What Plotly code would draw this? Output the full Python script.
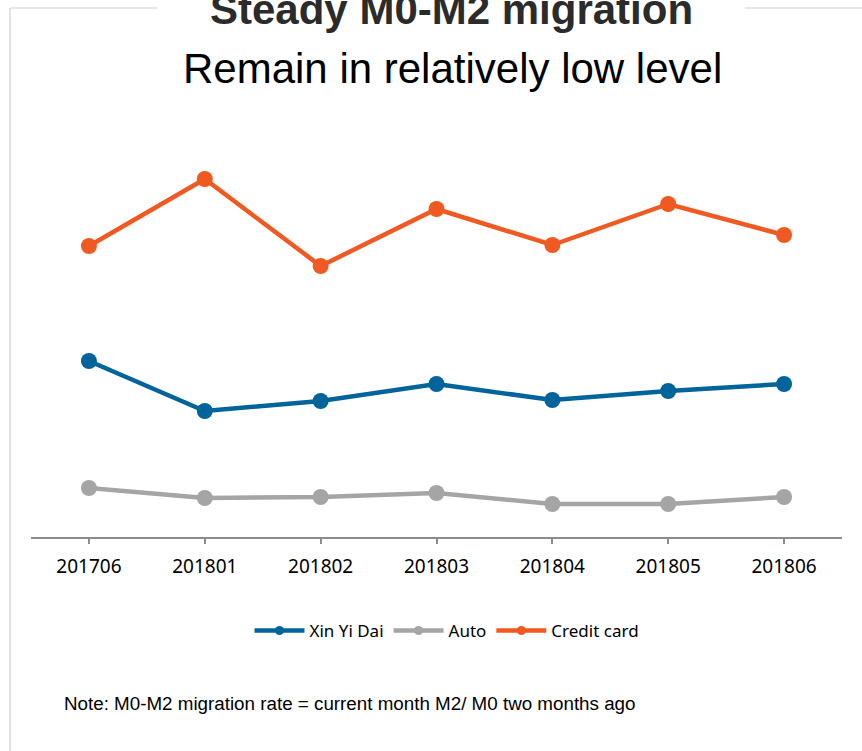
import plotly.graph_objects as go

months = ["201706", "201801", "201802", "201803", "201804", "201805", "201806"]
xin_yi_dai = [1.76, 1.26, 1.36, 1.53, 1.37, 1.46, 1.53]
auto = [0.49, 0.39, 0.40, 0.44, 0.33, 0.33, 0.40]
credit_card = [2.91, 3.58, 2.71, 3.28, 2.92, 3.33, 3.02]

series = [
    ("Xin Yi Dai", xin_yi_dai, "#00649C"),
    ("Auto", auto, "#A5A5A5"),
    ("Credit card", credit_card, "#F05A22"),
]

W, H = 862, 751
L, R, T, B = 31, 20, 140, 214
pw, ph = W - L - R, H - T - B


def px(x):
    return (x - L) / pw


def py(y):
    return (H - B - y) / ph


fig = go.Figure()
for name, vals, col in series:
    fig.add_trace(go.Scatter(
        x=months, y=vals, name=name, mode="lines+markers",
        line=dict(color=col, width=4.5),
        marker=dict(color=col, size=16),
        showlegend=False, legendgroup=name,
    ))
# legend entries (smaller marker, as in the reference legend)
for name, vals, col in series:
    fig.add_trace(go.Scatter(
        x=[None], y=[None], name=name, mode="lines+markers",
        line=dict(color=col, width=4.5),
        marker=dict(color=col, size=9),
        showlegend=True, legendgroup=name,
    ))

frame_col = "#D0D0D0"
shapes = [
    dict(type="line", xref="paper", yref="paper", x0=px(10), x1=px(158), y0=py(8), y1=py(8),
         line=dict(color=frame_col, width=1.2)),
    dict(type="line", xref="paper", yref="paper", x0=px(745), x1=px(870), y0=py(8), y1=py(8),
         line=dict(color=frame_col, width=1.2)),
    dict(type="line", xref="paper", yref="paper", x0=px(10), x1=px(10), y0=py(8), y1=py(760),
         line=dict(color=frame_col, width=1.2)),
    dict(type="line", xref="x", yref="y", x0=6.5, x1=6.5, ysizemode="pixel", yanchor=0,
         y0=0, y1=-5, line=dict(color="#8C8C8C", width=1.5)),
]

annotations = [
    dict(text="<b>Steady M0-M2 migration</b>", xref="paper", yref="paper",
         x=px(451), y=py(10), xanchor="center", yanchor="middle", showarrow=False,
         font=dict(family="Liberation Sans, Arial", size=42, color="#2B2B2B")),
    dict(text="Remain in relatively low level", xref="paper", yref="paper",
         x=px(452), y=py(68), xanchor="center", yanchor="middle", showarrow=False,
         font=dict(family="Liberation Sans, Arial", size=42, color="#000000")),
    dict(text="Note: M0-M2 migration rate = current month M2/ M0 two months ago",
         xref="paper", yref="paper", x=px(62), y=py(703), xanchor="left", yanchor="middle",
         showarrow=False, font=dict(family="Liberation Sans, Arial", size=18.8, color="#000000")),
]

fig.update_layout(
    width=W, height=H,
    margin=dict(l=L, r=R, t=T, b=B),
    paper_bgcolor="white", plot_bgcolor="white",
    showlegend=True,
    legend=dict(orientation="h", xref="container", yref="container",
                x=447 / W, y=1 - 631 / H, xanchor="center", yanchor="middle",
                font=dict(family="Noto Sans", size=17, color="#000000"),
                itemwidth=50, bgcolor="rgba(0,0,0,0)"),
    shapes=shapes,
    annotations=annotations,
    xaxis=dict(type="category", range=[-0.5, 6.5], showline=True, linecolor="#8C8C8C",
               linewidth=1.5, ticks="outside", ticklen=5, tickcolor="#8C8C8C", tickwidth=1.5,
               showgrid=False, zeroline=False, ticklabelstandoff=6,
               tickfont=dict(family="Noto Sans", size=19, color="#000000")),
    yaxis=dict(range=[0, 3.97], showticklabels=False, showgrid=False, zeroline=False,
               showline=False, ticks=""),
)

fig.write_html("out.html")
